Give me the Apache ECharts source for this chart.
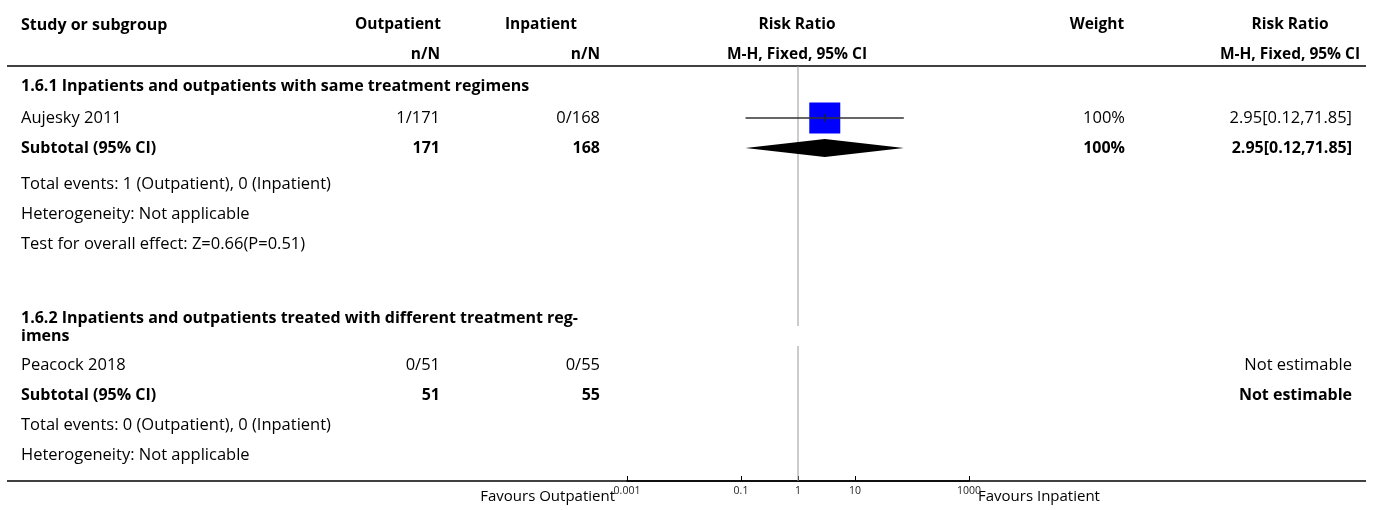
<!DOCTYPE html>
<html>
<head>
<meta charset="utf-8">
<script src="https://cdn.jsdelivr.net/npm/echarts@6/dist/echarts.min.js"></script>
<style>
html,body{margin:0;padding:0;background:#fff;}
#c{width:1373px;height:510px;}
</style>
</head>
<body>
<div id="c"></div>
<script>
// ---------- DATA ----------
const studies = ['Aujesky 2011', 'Peacock 2018'];
const outEvents = ['1/171', '0/51'];
const inEvents = ['0/168', '0/55'];
const studyRR = [2.95, null];
const studyLo = [0.12, null];
const studyHi = [71.85, null];
const studyWeight = ['100%', ''];
const studyCI = ['2.95[0.12,71.85]', 'Not estimable'];
const subgroupTitles = ['1.6.1 Inpatients and outpatients with same treatment regimens',
  '1.6.2 Inpatients and outpatients treated with different treatment reg-\nimens'];
const subtotalOut = ['171', '51'];
const subtotalIn = ['168', '55'];
const subtotalRR = [2.95, null];
const subtotalLo = [0.12, null];
const subtotalHi = [71.85, null];
const subtotalWeight = ['100%', ''];
const subtotalCI = ['2.95[0.12,71.85]', 'Not estimable'];
const totalEvents = ['Total events: 1 (Outpatient), 0 (Inpatient)', 'Total events: 0 (Outpatient), 0 (Inpatient)'];
const heterogeneity = ['Heterogeneity: Not applicable', 'Heterogeneity: Not applicable'];
const overallEffect = ['Test for overall effect: Z=0.66(P=0.51)', null];
const tickValues = [0.001, 0.1, 1, 10, 1000];
const tickLabels = ['0.001', '0.1', '1', '10', '1000'];
const favoursLeft = 'Favours Outpatient';
const favoursRight = 'Favours Inpatient';

// ---------- LAYOUT ----------
const FONT = '"Open Sans", "Noto Sans", sans-serif';
const FS = 16.5, FSB = 16, FSH = 15.5;
const X_TEXT = 21, X_OUT = 440, X_IN = 600, X_W = 1125, X_CI = 1352;
const rowY = {
  title: [86, 318], study: [118, 365], subtotal: [148, 395],
  events: [184, 425], het: [214, 455], effect: [244, null]
};
const AXIS_Y = 481, HEAD_LINE_Y = 66;

const el = [];
function txt(x, y, s, align, bold, size, color) {
  el.push({type: 'text', x: x, y: y, silent: true, style: {
    text: s, x: 0, y: 0, align: align || 'left', verticalAlign: 'middle',
    font: (bold ? 'bold ' : '') + (size || (bold ? FSB : FS)) + 'px ' + FONT, fill: color || '#000', lineHeight: 18
  }});
}
// header
txt(X_TEXT, 25, 'Study or subgroup', 'left', true, FSB);
txt(398, 25, 'Outpatient', 'center', true, FSH);
txt(X_OUT, 55, 'n/N', 'right', true, FSH);
txt(541, 25, 'Inpatient', 'center', true, FSH);
txt(X_IN, 55, 'n/N', 'right', true, FSH);
txt(797, 25, 'Risk Ratio', 'center', true, FSH);
txt(797, 55, 'M-H, Fixed, 95% CI', 'center', true, FSH);
txt(1097, 25, 'Weight', 'center', true, FSH);
txt(1290, 25, 'Risk Ratio', 'center', true, FSH);
txt(1290, 55, 'M-H, Fixed, 95% CI', 'center', true, FSH);

for (let g = 0; g < 2; g++) {
  const t = subgroupTitles[g];
  if (t.indexOf('\n') >= 0) {
    const parts = t.split('\n');
    txt(X_TEXT, rowY.title[g], parts[0], 'left', true);
    txt(X_TEXT, rowY.title[g] + 18, parts[1], 'left', true);
  } else txt(X_TEXT, rowY.title[g], t, 'left', true);
  txt(X_TEXT, rowY.study[g], studies[g]);
  txt(X_OUT, rowY.study[g], outEvents[g], 'right');
  txt(X_IN, rowY.study[g], inEvents[g], 'right');
  txt(X_W, rowY.study[g], studyWeight[g], 'right');
  txt(X_CI, rowY.study[g], studyCI[g], 'right');
  txt(X_TEXT, rowY.subtotal[g], 'Subtotal (95% CI)', 'left', true);
  txt(X_OUT, rowY.subtotal[g], subtotalOut[g], 'right', true);
  txt(X_IN, rowY.subtotal[g], subtotalIn[g], 'right', true);
  txt(X_W, rowY.subtotal[g], subtotalWeight[g], 'right', true);
  txt(X_CI, rowY.subtotal[g], subtotalCI[g], 'right', true);
  txt(X_TEXT, rowY.events[g], totalEvents[g]);
  txt(X_TEXT, rowY.het[g], heterogeneity[g]);
  if (overallEffect[g]) txt(X_TEXT, rowY.effect[g], overallEffect[g]);
}
txt(615, 497, favoursLeft, 'right', false, 15);
txt(978, 497, favoursRight, 'left', false, 15);
// rules
el.push({type: 'line', silent: true, shape: {x1: 7, y1: HEAD_LINE_Y, x2: 1366, y2: HEAD_LINE_Y}, style: {stroke: '#000', lineWidth: 1.5}});
el.push({type: 'line', silent: true, shape: {x1: 7, y1: AXIS_Y, x2: 1366, y2: AXIS_Y}, style: {stroke: '#000', lineWidth: 1.5}});

// ---------- CHART ----------
const chart = echarts.init(document.getElementById('c'), null, {renderer: 'canvas'});
const squareData = [], ciData = [], diamondData = [];
for (let g = 0; g < 2; g++) {
  if (studyRR[g] != null) {
    squareData.push([studyRR[g], rowY.study[g]]);
    ciData.push([studyLo[g], studyHi[g], rowY.study[g], studyRR[g]]);
  }
  if (subtotalRR[g] != null) diamondData.push([subtotalLo[g], subtotalHi[g], rowY.subtotal[g], subtotalRR[g]]);
}
const refSegments = [[HEAD_LINE_Y, 326], [346, AXIS_Y]];

chart.setOption({
  animation: false,
  graphic: el,
  grid: {left: 627, right: 1373 - 969, top: 0, bottom: 510 - AXIS_Y},
  xAxis: {
    type: 'log', logBase: 10, min: 0.001, max: 1000, position: 'bottom',
    axisLine: {show: true, onZero: false, lineStyle: {color: '#000', width: 1.5}},
    axisTick: {show: true, inside: true, length: 5, lineStyle: {color: '#000'}, customValues: tickValues},
    axisLabel: {show: true, fontSize: 10.5, color: '#222', fontFamily: FONT, margin: 5, customValues: tickValues,
      formatter: function (v) { const i = tickValues.findIndex(t => Math.abs(Math.log10(t) - Math.log10(v)) < 1e-6); return i >= 0 ? tickLabels[i] : ''; }},
    splitLine: {show: false}
  },
  yAxis: {type: 'value', inverse: true, min: 0, max: AXIS_Y, show: false},
  series: [
    {
      type: 'custom', silent: true, z: 1,
      data: refSegments,
      renderItem: function (params, api) {
        const a = api.coord([1, api.value(0)]);
        const b = api.coord([1, api.value(1)]);
        return {type: 'line', shape: {x1: a[0], y1: a[1], x2: b[0], y2: b[1]}, style: {stroke: '#999', lineWidth: 1}};
      }
    },
    {
      type: 'scatter', symbol: 'rect', symbolSize: 31, silent: true, z: 2,
      itemStyle: {color: '#0000ff', opacity: 1}, data: squareData
    },
    {
      type: 'custom', silent: true, z: 3, data: ciData,
      renderItem: function (params, api) {
        const y = api.value(2);
        const a = api.coord([api.value(0), y]);
        const b = api.coord([api.value(1), y]);
        const c = api.coord([api.value(3), y]);
        return {type: 'group', children: [
          {type: 'line', shape: {x1: a[0], y1: a[1], x2: b[0], y2: b[1]}, style: {stroke: '#333', lineWidth: 1.3}},
          {type: 'line', shape: {x1: c[0], y1: c[1] - 4, x2: c[0], y2: c[1] + 4}, style: {stroke: '#222', lineWidth: 1.2}}
        ]};
      }
    },
    {
      type: 'custom', silent: true, z: 3, data: diamondData,
      renderItem: function (params, api) {
        const y = api.value(2);
        const a = api.coord([api.value(0), y]);
        const b = api.coord([api.value(1), y]);
        const c = api.coord([api.value(3), y]);
        const h = 9;
        return {type: 'polygon', shape: {points: [[a[0], a[1]], [c[0], a[1] - h], [b[0], a[1]], [c[0], a[1] + h]]}, style: {fill: '#000'}};
      }
    }
  ]
});
</script>
</body>
</html>
